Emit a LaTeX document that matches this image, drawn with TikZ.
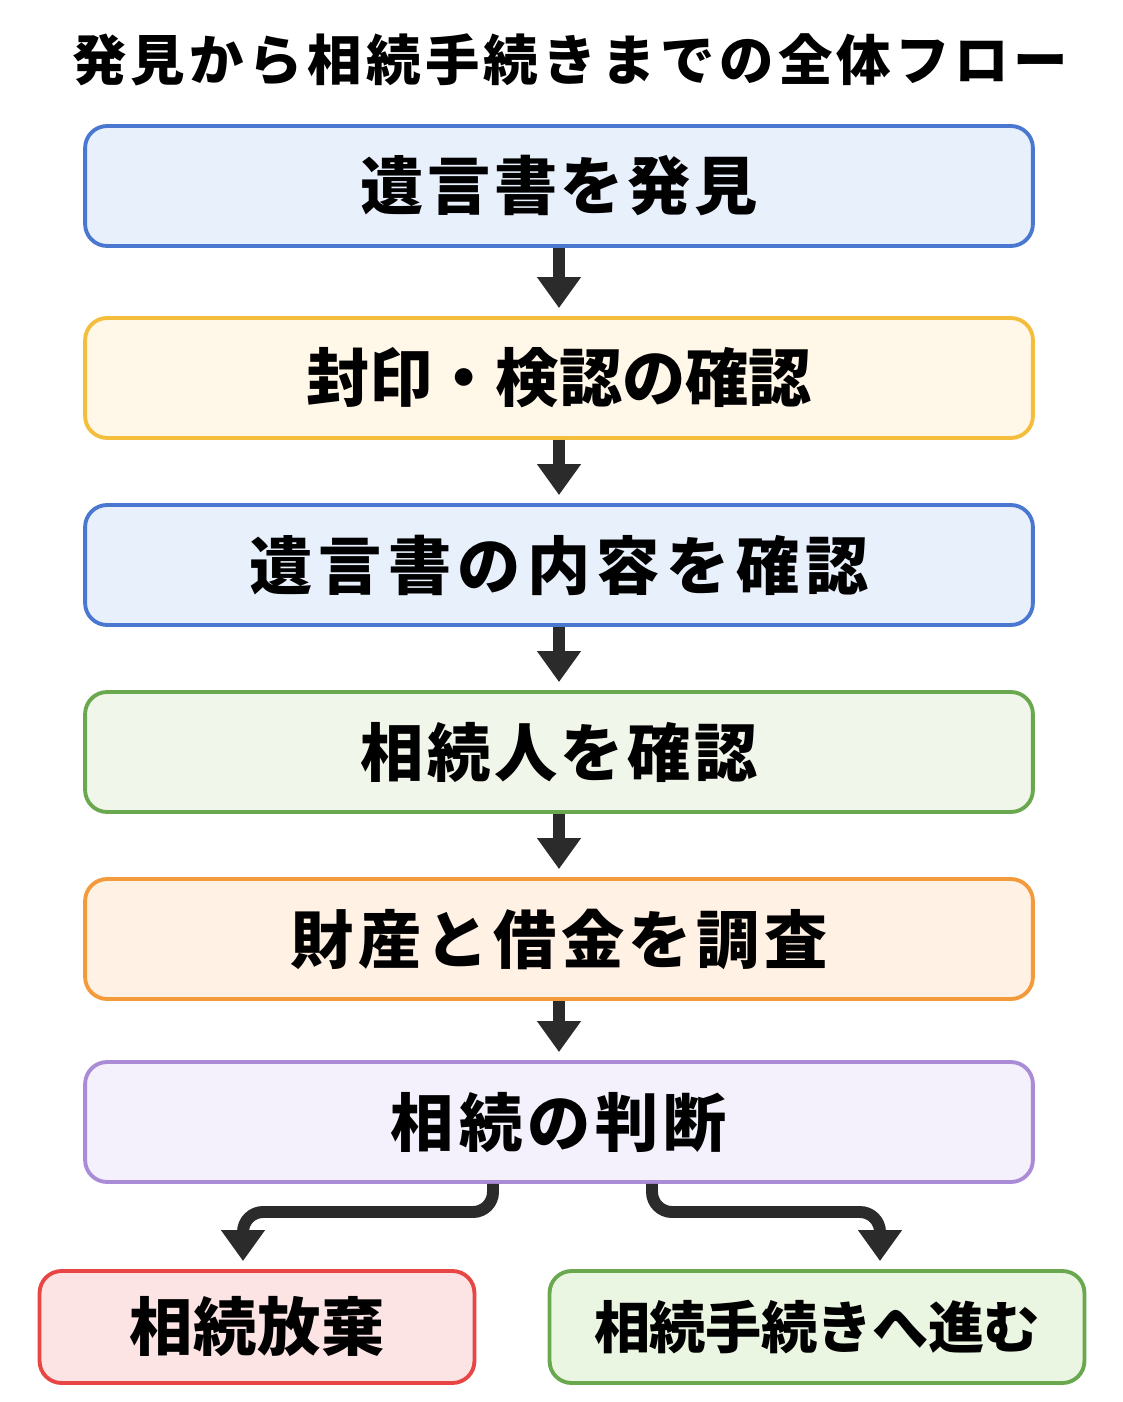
\documentclass[tikz,border=0pt]{standalone}
\usepackage{fontspec}
\setmainfont{Noto Sans CJK JP}
\usetikzlibrary{arrows.meta}
\usepackage{xcolor}

\definecolor{blueline}{HTML}{4A78D0}
\definecolor{bluefill}{HTML}{E8F0FC}
\definecolor{yellowline}{HTML}{F4BE3C}
\definecolor{yellowfill}{HTML}{FFF7E7}
\definecolor{greenline}{HTML}{6AA84F}
\definecolor{greenfill}{HTML}{F1F6EA}
\definecolor{orangeline}{HTML}{F39A3C}
\definecolor{orangefill}{HTML}{FFF1E4}
\definecolor{purpleline}{HTML}{A98BD6}
\definecolor{purplefill}{HTML}{F4F0FC}
\definecolor{redline}{HTML}{E84545}
\definecolor{redfill}{HTML}{FDE4E4}
\definecolor{lightgreenfill}{HTML}{EAF5E2}
\definecolor{arrowgray}{HTML}{2B2B2B}

\begin{document}
\begin{tikzpicture}[x=0.02cm, y=-0.02cm]
\tikzstyle{stepbox} = [draw, rounded corners=0.44cm, line width=2.2pt, minimum width=18.96cm, minimum height=2.4cm, font=\fontsize{36}{40}\selectfont\bfseries]
\tikzstyle{endbox} = [draw, rounded corners=0.44cm, line width=2.2pt, minimum height=2.24cm, font=\fontsize{36}{40}\selectfont\bfseries]
\tikzstyle{flow} = [draw=arrowgray, line width=6.8pt, -{Triangle[width=0.84cm, length=0.62cm]}, shorten >=0.16cm]

\useasboundingbox (0,0) rectangle (1122,1402);

\node[font=\fontsize{31}{36}\selectfont\bfseries] (title) at (570,60) {\addfontfeature{LetterSpace=8}発見から相続手続きまでの全体フロー};

\node[stepbox, draw=blueline, fill=bluefill] (find) at (559,186) {\addfontfeature{LetterSpace=5.5}遺言書を発見};
\node[stepbox, draw=yellowline, fill=yellowfill] (seal) at (559,378) {封印・検認の確認};
\node[stepbox, draw=blueline, fill=bluefill] (content) at (559,565) {\addfontfeature{LetterSpace=10}遺言書の内容を確認};
\node[stepbox, draw=greenline, fill=greenfill] (heirs) at (559,752) {\addfontfeature{LetterSpace=5.5}相続人を確認};
\node[stepbox, draw=orangeline, fill=orangefill] (assets) at (559,939) {\addfontfeature{LetterSpace=7}財産と借金を調査};
\node[stepbox, draw=purpleline, fill=purplefill] (decide) at (559,1122) {\addfontfeature{LetterSpace=8}相続の判断};

\node[endbox, draw=redline, fill=redfill, minimum width=8.7cm] (giveup) at (257,1327) {\addfontfeature{LetterSpace=1}相続放棄};
\node[endbox, draw=greenline, fill=lightgreenfill, minimum width=10.7cm, font=\fontsize{32}{36}\selectfont\bfseries] (proceed) at (817,1327) {\addfontfeature{LetterSpace=-1}相続手続きへ進む};

\draw[flow] (find) -- (seal);
\draw[flow] (seal) -- (content);
\draw[flow] (content) -- (heirs);
\draw[flow] (heirs) -- (assets);
\draw[flow] (assets) -- (decide);

\draw[flow, rounded corners=0.4cm] (decide.south -| 493,0) |- (243,1212) -- (giveup.north -| 243,0);
\draw[flow, rounded corners=0.4cm] (decide.south -| 652,0) |- (880,1212) -- (proceed.north -| 880,0);
\end{tikzpicture}
\end{document}
